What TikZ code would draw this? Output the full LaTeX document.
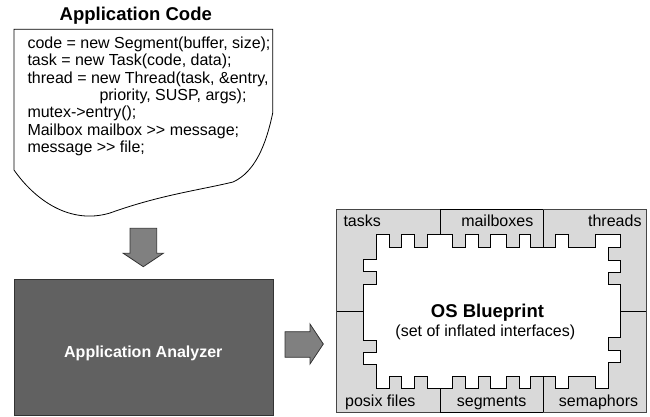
\documentclass[tikz,border=0pt]{standalone}
\usepackage{fontspec}
\setmainfont{Liberation Sans}
\definecolor{bpgray}{RGB}{217,217,217}
\definecolor{arrgray}{RGB}{128,128,128}
\definecolor{anagray}{RGB}{97,97,97}
\definecolor{outline}{RGB}{70,70,70}
\tikzset{
  codeline/.style={anchor=base west, inner sep=0pt, font=\fontsize{16}{17}\selectfont},
  lbl/.style={inner sep=0pt, font=\fontsize{16}{17}\selectfont},
  blockarrow/.style={fill=arrgray, draw=black!80, line width=0.8pt},
  divider/.style={draw=black, line width=0.8pt},
}
\begin{document}
\begin{tikzpicture}[x=1pt,y=-1pt]
\useasboundingbox (0,0) rectangle (650,416);
% title
\node[lbl, anchor=base, font=\fontsize{18.5}{20}\selectfont\bfseries] (title) at (135.8,20) {Application Code};
% code box (wavy document)
\draw[line width=0.8pt] (14,29.3) -- (272.7,29.3) -- (272.7,113)
  .. controls (266,145) and (255,172) .. (233,182)
  .. controls (200,190) and (160,195) .. (110,213)
  .. controls (70,225) and (35,200) .. (14,170) -- cycle;
\node[codeline] (c1) at (27.3,48.5) {code = new Segment(buffer, size);};
\node[codeline] (c2) at (27.3,65.8) {task = new Task(code, data);};
\node[codeline] (c3) at (27.3,83.1) {thread = new Thread(task, \&entry,};
\node[codeline] (c4) at (99.3,100.4) {priority, SUSP, args);};
\node[codeline] (c5) at (27.3,117.7) {mutex-{}>entry();};
\node[codeline] (c6) at (27.3,135.0) {Mailbox mailbox {>}{>} message;};
\node[codeline] (c7) at (27.3,152.3) {message {>}{>} file;};
% down arrow
\draw[blockarrow] (130,228.3) -- (156.7,228.3) -- (156.7,253.3) -- (163.3,253.3)
  -- (143.3,266.7) -- (123.3,253.3) -- (130,253.3) -- cycle;
% analyzer
\node[fill=anagray, draw=black!80, line width=0.8pt, minimum width=258.7pt, minimum height=135.7pt, anchor=north west, inner sep=0pt] (ana) at (14,279.3) {};
\node[lbl, anchor=base, text=white, font=\fontsize{16}{17}\selectfont\bfseries] (analbl) at (143.3,357) {Application Analyzer};
% right arrow
\draw[blockarrow] (285,331.7) -- (310,331.7) -- (310,324) -- (323.3,344)
  -- (310,364) -- (310,357.3) -- (285,357.3) -- cycle;
% blueprint
\fill[bpgray] (336,209) rectangle (646,412.5);
\draw[divider] (440,209) -- (440,234);
\draw[divider] (543,209) -- (543,247);
\draw[divider] (440,388) -- (440,412.5);
\draw[divider] (543,376) -- (543,412.5);
\draw[divider] (336,311) -- (363,311);
\draw[divider] (620,311) -- (646,311);
\draw[outline, line width=0.9pt] (336,209) rectangle (646,412.5);
\draw[divider] (440,209) -- (543,209);
\draw[divider] (440,412.5) -- (543,412.5);
\draw[fill=white, line width=0.8pt] (376,234) -- (389,234) -- (389,247) -- (401.7,247) -- (401.7,234)
  -- (414.3,234) -- (414.3,247) -- (427.3,247) -- (427.3,234) -- (452.7,234) -- (452.7,247)
  -- (465.3,247) -- (465.3,234) -- (478.3,234) -- (478.3,247) -- (490.7,247) -- (490.7,234)
  -- (506,234) -- (506,247) -- (519,247) -- (519,234) -- (530,234) -- (530,247) -- (555,247)
  -- (555,234) -- (568.3,234) -- (568.3,247) -- (595,247) -- (595,234) -- (620,234) -- (620,247)
  -- (608,247) -- (608,260) -- (620,260) -- (620,272) -- (608,272) -- (608,284) -- (620,284)
  -- (620,337) -- (608,337) -- (608,350) -- (620,350) -- (620,362) -- (608,362) -- (608,388)
  -- (595,388) -- (595,376) -- (568.3,376) -- (568.3,388) -- (555,388) -- (555,376) -- (530,376)
  -- (530,388) -- (519,388) -- (519,376) -- (506,376) -- (506,388) -- (490.7,388) -- (490.7,376)
  -- (478.3,376) -- (478.3,388) -- (465.3,388) -- (465.3,376) -- (452.7,376) -- (452.7,388)
  -- (427.3,388) -- (427.3,376) -- (414.3,376) -- (414.3,388) -- (401.7,388) -- (401.7,376)
  -- (389,376) -- (389,388) -- (376,388) -- (376,364) -- (363,364) -- (363,352) -- (376,352)
  -- (376,340) -- (363,340) -- (363,284) -- (376,284) -- (376,271) -- (363,271) -- (363,259)
  -- (376,259) -- cycle;
\node[lbl, anchor=base west] (tasks) at (343.3,226) {tasks};
\node[lbl, anchor=base east] (mail) at (533.5,226) {mailboxes};
\node[lbl, anchor=base east] (threads) at (641.7,226) {threads};
\node[lbl, anchor=base west] (posix) at (345,406) {posix files};
\node[lbl, anchor=base west] (segs) at (456.7,406) {segments};
\node[lbl, anchor=base east] (sema) at (638.3,406) {semaphors};
\node[lbl, anchor=base, font=\fontsize{18.5}{20}\selectfont\bfseries] (osbp) at (487.5,317.5) {OS Blueprint};
\node[lbl, anchor=base] (osbpsub) at (485.3,336) {(set of inflated interfaces)};
\end{tikzpicture}
\end{document}
